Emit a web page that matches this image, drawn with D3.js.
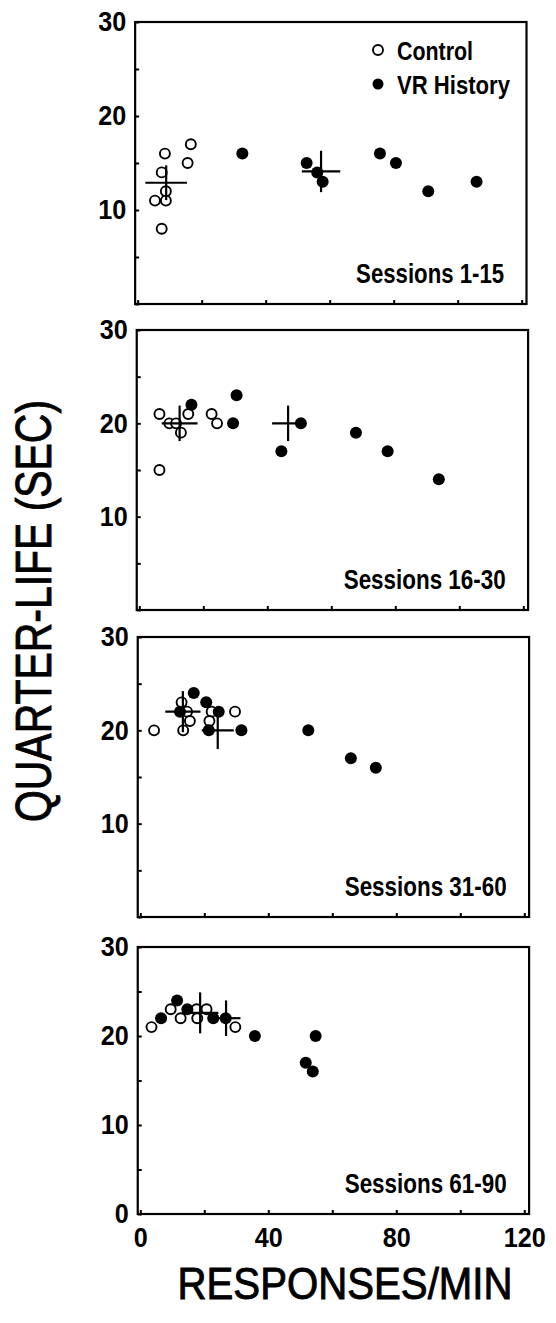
<!DOCTYPE html>
<html>
<head>
<meta charset="utf-8">
<title>Quarter-life vs responses/min</title>
<script src="https://cdn.jsdelivr.net/npm/d3@7"></script>
<style>
  body { margin: 0; background: #fff; }
  svg { display: block; }
  text { font-family: "Liberation Sans", Arial, sans-serif; fill: #000; }
</style>
</head>
<body>
<div id="main"></div>
<script>
// data
const sessionLabels = ['Sessions 1-15', 'Sessions 16-30', 'Sessions 31-60', 'Sessions 61-90'];

// control group, one [rate, quarter-life] pair per subject
const control1 = [[8.5, 16], [7.5, 14], [8.8, 12], [5.4, 11], [8.8, 11], [7.5, 8], [16.6, 17], [15.6, 15]];
const control2 = [[6.3, 21], [9.4, 20], [11.5, 20], [13.0, 19], [15.3, 21], [22.6, 21], [24.3, 20], [6.3, 15]];
const control3 = [[4.3, 20], [12.9, 23], [13.4, 20], [14.6, 22], [15.5, 21], [22.3, 22], [21.6, 21], [29.6, 22]];
const control4 = [[3.5, 21], [9.5, 23], [12.6, 22], [17.6, 23], [17.8, 22], [20.7, 23], [29.7, 21]];

// VR history group
const vr1 = [[32.7, 16], [52.8, 15], [56.1, 14], [57.8, 13], [75.7, 16], [80.7, 15], [90.8, 12], [105.9, 13]];
const vr2 = [[16.3, 22], [29.3, 20], [30.4, 23], [44.4, 17], [50.5, 20], [67.7, 19], [77.6, 17], [93.6, 14]];
const vr3 = [[12.4, 22], [16.7, 24], [20.6, 23], [24.5, 22], [21.4, 20], [31.6, 20], [52.5, 20], [65.8, 17], [73.6, 16]];
const vr4 = [[6.5, 22], [11.5, 24], [14.7, 23], [22.8, 22], [26.7, 22], [35.8, 20], [51.7, 17], [53.9, 16], [54.8, 20]];

// group means: [rate, quarter-life, rate error, quarter-life error]
const controlMeans = [[8.9, 12.9, 6.5, 1.85], [12.6, 20, 5.6, 1.9], [13.3, 22, 5.5, 2.2], [18.7, 22.6, 5.7, 2.3]];
const vrMeans = [[57.3, 14.1, 6, 2.2], [46.5, 20, 5, 1.9], [24.2, 20, 5, 2], [26.8, 22, 4.5, 2]];

// ticks
const xTicks = [0, 20, 40, 60, 80, 100, 120];
const xTickLabels = [0, 40, 80, 120];
const yTicks = [0, 5, 10, 15, 20, 25, 30];
const yTickLabels = [10, 20, 30];

!(function () {
  'use strict';

  let
    svg = undefined,
    canvas = {},
    panels = [];

  canvas = {
    context: '#main',
    width: 556,
    height: 1323
  };

  // pixel position of x = 0, y = 30 and y = 0 in each panel
  panels = [
    { x0: 137.7, top: 22, bottom: 304, control: control1, vr: vr1 },
    { x0: 139.3, top: 330, bottom: 610, control: control2, vr: vr2 },
    { x0: 140.3, top: 637, bottom: 917, control: control3, vr: vr3 },
    { x0: 140.3, top: 947, bottom: 1214, control: control4, vr: vr4 }
  ];

  function setCanvas() {
    svg = d3.select(canvas.context)
      .append('svg')
      .attr('width', canvas.width)
      .attr('height', canvas.height);
  }

  // condensed bold digits, like the original lettering
  function styleTickText(sel) {
    sel.attr('font-size', 28)
      .attr('font-weight', 'bold')
      .attr('font-family', '"Liberation Sans", Arial, sans-serif')
      .each(function () {
        const t = d3.select(this);
        const s = t.text();
        if (s.length) {
          t.attr('textLength', s.length * 14).attr('lengthAdjust', 'spacingAndGlyphs');
        }
      });
  }

  function drawPanel(p, i) {
    const last = i === panels.length - 1;
    const x = d3.scaleLinear().domain([0, 120]).range([p.x0, p.x0 + 384]);
    const y = d3.scaleLinear().domain([0, 30]).range([p.bottom, p.top]);
    const g = svg.append('g').attr('class', 'panel');

    // frame
    g.append('rect')
      .attr('x', x(-0.8))
      .attr('y', y(30))
      .attr('width', x(121.5) - x(-0.8))
      .attr('height', y(0) - y(30))
      .attr('fill', 'none')
      .attr('stroke', '#000')
      .attr('stroke-width', 2.2);

    // y axis, ticks inward
    const yAxis = g.append('g')
      .attr('transform', 'translate(' + x(-0.8) + ',0)')
      .call(d3.axisLeft(y)
        .tickValues(yTicks)
        .tickSize(-4)
        .tickPadding(9)
        .tickFormat(function (d) {
          return (yTickLabels.indexOf(d) >= 0 || (last && d === 0)) ? d : '';
        }));
    yAxis.select('.domain').remove();
    yAxis.selectAll('line').attr('stroke-width', 2);
    styleTickText(yAxis.selectAll('text'));

    // x axis, ticks inward
    const xAxis = g.append('g')
      .attr('transform', 'translate(0,' + y(0) + ')')
      .call(d3.axisBottom(x)
        .tickValues(xTicks)
        .tickSize(-4)
        .tickPadding(13)
        .tickFormat(function (d) {
          return (last && xTickLabels.indexOf(d) >= 0) ? d : '';
        }));
    xAxis.select('.domain').remove();
    xAxis.selectAll('line').attr('stroke-width', 2);
    styleTickText(xAxis.selectAll('text'));

    // control, open circles
    g.append('g')
      .selectAll('circle')
      .data(p.control)
      .enter()
      .append('circle')
      .attr('cx', function (d) { return x(d[0]); })
      .attr('cy', function (d) { return y(d[1]); })
      .attr('r', 5)
      .attr('fill', '#fff')
      .attr('stroke', '#000')
      .attr('stroke-width', 1.9);

    // VR history, filled circles
    g.append('g')
      .selectAll('circle')
      .data(p.vr)
      .enter()
      .append('circle')
      .attr('cx', function (d) { return x(d[0]); })
      .attr('cy', function (d) { return y(d[1]); })
      .attr('r', 6)
      .attr('fill', '#000');

    // mean crosses
    const means = [controlMeans[i], vrMeans[i]];
    const cross = g.append('g')
      .attr('stroke', '#000')
      .attr('stroke-width', 2.2);
    cross.selectAll('line.h')
      .data(means)
      .enter()
      .append('line')
      .attr('class', 'h')
      .attr('x1', function (d) { return x(d[0] - d[2]); })
      .attr('x2', function (d) { return x(d[0] + d[2]); })
      .attr('y1', function (d) { return y(d[1]); })
      .attr('y2', function (d) { return y(d[1]); });
    cross.selectAll('line.v')
      .data(means)
      .enter()
      .append('line')
      .attr('class', 'v')
      .attr('x1', function (d) { return x(d[0]); })
      .attr('x2', function (d) { return x(d[0]); })
      .attr('y1', function (d) { return y(d[1] - d[3]); })
      .attr('y2', function (d) { return y(d[1] + d[3]); });

    // session label
    g.append('text')
      .attr('x', x(114.5))
      .attr('y', y(0) - 21)
      .attr('text-anchor', 'end')
      .attr('font-size', 28)
      .attr('font-weight', 'bold')
      .attr('textLength', i === 0 ? 148 : 162)
      .attr('lengthAdjust', 'spacingAndGlyphs')
      .text(sessionLabels[i]);

    if (i === 0) {
      drawLegend(g);
    }
  }

  function drawLegend(g) {
    const legend = g.append('g');
    legend.append('circle')
      .attr('cx', 378).attr('cy', 50).attr('r', 5)
      .attr('fill', '#fff').attr('stroke', '#000').attr('stroke-width', 1.9);
    legend.append('text')
      .attr('x', 397).attr('y', 60)
      .attr('font-size', 26).attr('font-weight', 'bold')
      .attr('textLength', 76).attr('lengthAdjust', 'spacingAndGlyphs')
      .text('Control');
    legend.append('circle')
      .attr('cx', 378).attr('cy', 84).attr('r', 5.5)
      .attr('fill', '#000');
    legend.append('text')
      .attr('x', 397).attr('y', 94)
      .attr('font-size', 26).attr('font-weight', 'bold')
      .attr('textLength', 113).attr('lengthAdjust', 'spacingAndGlyphs')
      .text('VR History');
  }

  function drawTitles() {
    svg.append('text')
      .attr('transform', 'translate(51,611) rotate(-90)')
      .attr('text-anchor', 'middle')
      .attr('font-size', 50)
      .attr('stroke', '#000')
      .attr('stroke-width', 0.9)
      .attr('textLength', 422)
      .attr('lengthAdjust', 'spacingAndGlyphs')
      .text('QUARTER-LIFE (SEC)');

    svg.append('text')
      .attr('x', 345)
      .attr('y', 1299)
      .attr('text-anchor', 'middle')
      .attr('font-size', 44)
      .attr('stroke', '#000')
      .attr('stroke-width', 0.9)
      .attr('textLength', 335)
      .attr('lengthAdjust', 'spacingAndGlyphs')
      .text('RESPONSES/MIN');
  }

  // control
  setCanvas();
  panels.forEach(drawPanel);
  drawTitles();
}());
</script>
</body>
</html>
